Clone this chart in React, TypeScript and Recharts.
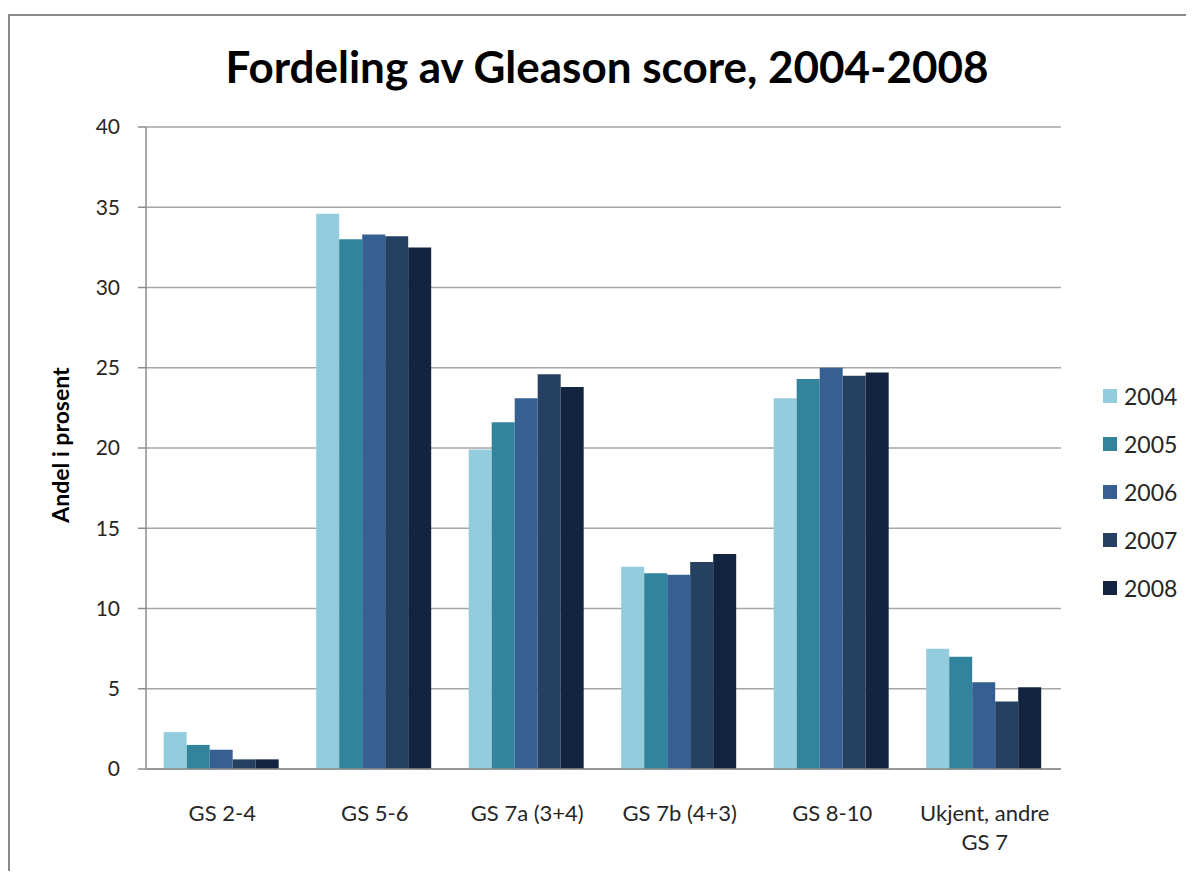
import { BarChart, Bar, XAxis, YAxis, CartesianGrid } from 'recharts'

// Andel i prosent per Gleason-gruppe og diagnoseår
const categories = ['GS 2-4', 'GS 5-6', 'GS 7a (3+4)', 'GS 7b (4+3)', 'GS 8-10', 'Ukjent, andre GS 7']
const years = ['2004', '2005', '2006', '2007', '2008']
const values2004 = [2.3, 34.6, 19.9, 12.6, 23.1, 7.5]
const values2005 = [1.5, 33.0, 21.6, 12.2, 24.3, 7.0]
const values2006 = [1.2, 33.3, 23.1, 12.1, 25.0, 5.4]
const values2007 = [0.6, 33.2, 24.6, 12.9, 24.5, 4.2]
const values2008 = [0.6, 32.5, 23.8, 13.4, 24.7, 5.1]
const yTicks = [0, 5, 10, 15, 20, 25, 30, 35, 40]

const colors = ['#93cddd', '#31849b', '#366092', '#254061', '#12243f']
const font = 'Lato, "Open Sans", sans-serif'

const series = [values2004, values2005, values2006, values2007, values2008]
const data = categories.map((name, i) => {
  const row: Record<string, string | number> = { name }
  years.forEach((y, j) => {
    row[y] = series[j][i]
  })
  return row
})

// bryter lange kategorinavn over flere linjer (maks ~13 tegn per linje)
function wrapLabel(label: string, maxChars = 13) {
  const lines: string[] = []
  let cur = ''
  label.split(' ').forEach((w) => {
    const next = cur ? cur + ' ' + w : w
    if (next.length > maxChars && cur) {
      lines.push(cur)
      cur = w
    } else {
      cur = next
    }
  })
  if (cur) lines.push(cur)
  return lines
}

function CategoryTick(props: any) {
  const { x, y, payload } = props
  const lines = wrapLabel(String(payload.value))
  return (
    <text x={x} y={y + 50} textAnchor="middle" fontSize={22} fontFamily={font} fill="#262626">
      {lines.map((l, i) => (
        <tspan key={i} x={x} dy={i === 0 ? 0 : 29}>
          {l}
        </tspan>
      ))}
    </text>
  )
}

function YLabel(props: any) {
  const { viewBox } = props
  const cy = viewBox.y + viewBox.height / 2 - 3
  return (
    <text
      x={52}
      y={cy}
      transform={`rotate(-90, 52, ${cy})`}
      textAnchor="middle"
      dominantBaseline="central"
      fontSize={23}
      fontWeight={700}
      fontFamily={font}
      fill="#000"
    >
      Andel i prosent
    </text>
  )
}

function YearLegend() {
  return (
    <div style={{ position: 'absolute', left: 1095, top: 364, fontFamily: font }}>
      {years.map((y, i) => (
        <div key={y} style={{ display: 'flex', alignItems: 'center', height: 48 }}>
          <div style={{ width: 14, height: 14, background: colors[i], marginRight: 7 }}></div>
          <span style={{ fontSize: 23, color: '#262626' }}>{y}</span>
        </div>
      ))}
    </div>
  )
}

export default function App() {
  return (
    <div
      style={{
        position: 'relative',
        width: 1186,
        height: 871,
        marginBottom: -8,
        overflow: 'hidden',
        background: '#fff',
      }}
    >
      {/* ramme rundt diagrammet */}
      <div
        style={{
          position: 'absolute',
          left: 0,
          top: 6,
          width: 1186,
          height: 900,
          borderLeft: '2px solid #898989',
          borderTop: '2px solid #898989',
          boxSizing: 'border-box',
        }}
      ></div>
      <div
        style={{
          position: 'absolute',
          left: 0,
          top: 32,
          width: 1198,
          textAlign: 'center',
          fontFamily: font,
          fontWeight: 700,
          fontSize: 44,
          color: '#000',
        }}
      >
        Fordeling av Gleason score, 2004-2008
      </div>
      <div style={{ position: 'absolute', left: 0, top: 0 }}>
        <BarChart
          width={1186}
          height={860}
          data={data}
          margin={{ top: 119, right: 133, left: 0, bottom: 29 }}
          barCategoryGap="11.6%"
          barGap={0}
        >
          <CartesianGrid vertical={false} stroke="#a6a6a6" strokeWidth={1.5} />
          <XAxis
            dataKey="name"
            height={70}
            interval={0}
            tickLine={false}
            tickSize={0}
            axisLine={{ stroke: '#8c8c8c', strokeWidth: 1.5 }}
            tick={<CategoryTick />}
          />
          <YAxis
            width={138}
            domain={[0, 40]}
            ticks={yTicks}
            interval={0}
            tickSize={8}
            tickMargin={18}
            axisLine={{ stroke: '#8c8c8c', strokeWidth: 1.5 }}
            tickLine={{ stroke: '#8c8c8c', strokeWidth: 1.5 }}
            tick={{ fontSize: 21, fontFamily: font, fill: '#262626' }}
            label={<YLabel />}
          />
          {years.map((y, i) => (
            <Bar key={y} dataKey={y} fill={colors[i]} isAnimationActive={false} />
          ))}
        </BarChart>
      </div>
      <YearLegend />
    </div>
  )
}
